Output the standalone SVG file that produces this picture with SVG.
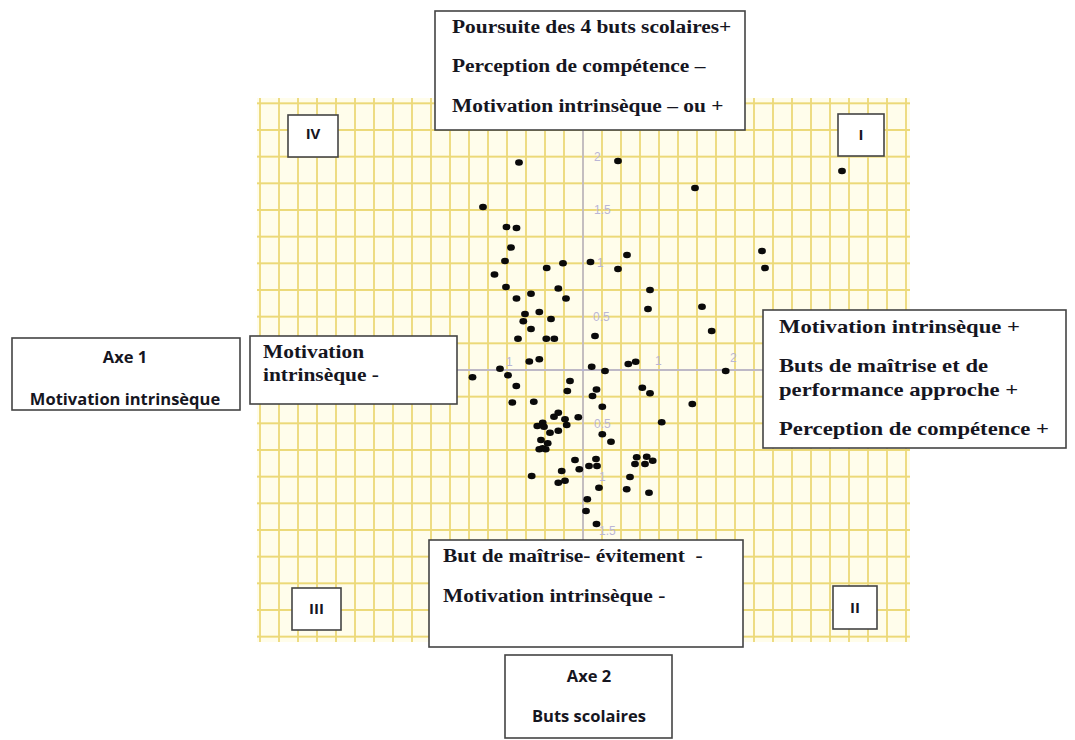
<svg xmlns="http://www.w3.org/2000/svg" width="1075" height="740" viewBox="0 0 1075 740">
<style>
.box{fill:#ffffff;stroke:#444444;stroke-width:1.6}
.ser{font-family:"Liberation Serif","Times New Roman",serif;font-weight:bold;font-size:18px;fill:#16161f}
.sans{font-family:"Open Sans","Liberation Sans",sans-serif;font-weight:bold;fill:#16161f}
.ax{stroke:#aeaee0;stroke-width:1.3;fill:none}
.lab{font-family:"Liberation Sans",Arial,sans-serif;font-size:12px;fill:#bab6d6}
.pt{fill:#0a0a0a}
</style>
<defs>
<pattern id="gridpat" patternUnits="userSpaceOnUse" x="582" y="369" width="19" height="26.667">
<path d="M1 0V26.667M0 1H19" stroke="#ecd978" stroke-width="1.8" fill="none"/>
</pattern>
</defs>
<rect width="1075" height="740" fill="#ffffff"/>
<g id="grid">
<rect x="257" y="98" width="653" height="544" fill="#fffdeb"/>
<rect x="257" y="98" width="653" height="544" fill="url(#gridpat)"/>
<path class="ax" d="M583 98V642M257 370H910"/>
<text class="lab" x="594" y="161">2</text>
<text class="lab" x="594" y="214">1.5</text>
<text class="lab" x="597" y="267">1</text>
<text class="lab" x="593" y="321">0.5</text>
<text class="lab" x="594" y="428">0.5</text>
<text class="lab" x="599" y="481">1</text>
<text class="lab" x="599" y="535">1.5</text>
<text class="lab" x="506" y="366">1</text>
<text class="lab" x="655" y="365">1</text>
<text class="lab" x="730" y="362">2</text>
</g>
<g id="points">
<ellipse class="pt" cx="519" cy="162.5" rx="3.9" ry="3.3"/>
<ellipse class="pt" cx="618" cy="161" rx="3.9" ry="3.3"/>
<ellipse class="pt" cx="695" cy="188" rx="3.9" ry="3.3"/>
<ellipse class="pt" cx="842" cy="171" rx="3.9" ry="3.3"/>
<ellipse class="pt" cx="483" cy="207" rx="3.9" ry="3.3"/>
<ellipse class="pt" cx="506.5" cy="227" rx="3.9" ry="3.3"/>
<ellipse class="pt" cx="516.5" cy="228" rx="3.9" ry="3.3"/>
<ellipse class="pt" cx="511" cy="247.5" rx="3.9" ry="3.3"/>
<ellipse class="pt" cx="627" cy="255" rx="3.9" ry="3.3"/>
<ellipse class="pt" cx="762" cy="251" rx="3.9" ry="3.3"/>
<ellipse class="pt" cx="765" cy="268" rx="3.9" ry="3.3"/>
<ellipse class="pt" cx="505" cy="261" rx="3.9" ry="3.3"/>
<ellipse class="pt" cx="590.5" cy="262" rx="3.9" ry="3.3"/>
<ellipse class="pt" cx="618" cy="269" rx="3.9" ry="3.3"/>
<ellipse class="pt" cx="546.7" cy="268" rx="3.9" ry="3.3"/>
<ellipse class="pt" cx="563" cy="263.3" rx="3.9" ry="3.3"/>
<ellipse class="pt" cx="494.5" cy="274.5" rx="3.9" ry="3.3"/>
<ellipse class="pt" cx="506" cy="287" rx="3.9" ry="3.3"/>
<ellipse class="pt" cx="531" cy="293.7" rx="3.9" ry="3.3"/>
<ellipse class="pt" cx="558.3" cy="288.5" rx="3.9" ry="3.3"/>
<ellipse class="pt" cx="516.5" cy="298.5" rx="3.9" ry="3.3"/>
<ellipse class="pt" cx="566" cy="298.5" rx="3.9" ry="3.3"/>
<ellipse class="pt" cx="650" cy="290" rx="3.9" ry="3.3"/>
<ellipse class="pt" cx="648" cy="309" rx="3.9" ry="3.3"/>
<ellipse class="pt" cx="702" cy="306.7" rx="3.9" ry="3.3"/>
<ellipse class="pt" cx="711.7" cy="331" rx="3.9" ry="3.3"/>
<ellipse class="pt" cx="525" cy="314" rx="3.9" ry="3.3"/>
<ellipse class="pt" cx="539.3" cy="312" rx="3.9" ry="3.3"/>
<ellipse class="pt" cx="523.3" cy="321.3" rx="3.9" ry="3.3"/>
<ellipse class="pt" cx="551" cy="319" rx="3.9" ry="3.3"/>
<ellipse class="pt" cx="531" cy="329" rx="3.9" ry="3.3"/>
<ellipse class="pt" cx="518" cy="338.7" rx="3.9" ry="3.3"/>
<ellipse class="pt" cx="546.3" cy="338.7" rx="3.9" ry="3.3"/>
<ellipse class="pt" cx="554.3" cy="338.7" rx="3.9" ry="3.3"/>
<ellipse class="pt" cx="595" cy="336" rx="3.9" ry="3.3"/>
<ellipse class="pt" cx="529.3" cy="361.5" rx="3.9" ry="3.3"/>
<ellipse class="pt" cx="539.3" cy="359.3" rx="3.9" ry="3.3"/>
<ellipse class="pt" cx="500" cy="368.7" rx="3.9" ry="3.3"/>
<ellipse class="pt" cx="472.5" cy="377.3" rx="3.9" ry="3.3"/>
<ellipse class="pt" cx="508" cy="375.3" rx="3.9" ry="3.3"/>
<ellipse class="pt" cx="591.7" cy="366.7" rx="3.9" ry="3.3"/>
<ellipse class="pt" cx="605" cy="371" rx="3.9" ry="3.3"/>
<ellipse class="pt" cx="628.3" cy="364" rx="3.9" ry="3.3"/>
<ellipse class="pt" cx="635.7" cy="361.7" rx="3.9" ry="3.3"/>
<ellipse class="pt" cx="725.7" cy="371" rx="3.9" ry="3.3"/>
<ellipse class="pt" cx="516.3" cy="386" rx="3.9" ry="3.3"/>
<ellipse class="pt" cx="570" cy="381" rx="3.9" ry="3.3"/>
<ellipse class="pt" cx="567.3" cy="391" rx="3.9" ry="3.3"/>
<ellipse class="pt" cx="596.5" cy="389.5" rx="3.9" ry="3.3"/>
<ellipse class="pt" cx="592.5" cy="396" rx="3.9" ry="3.3"/>
<ellipse class="pt" cx="642.3" cy="387.7" rx="3.9" ry="3.3"/>
<ellipse class="pt" cx="650" cy="393.3" rx="3.9" ry="3.3"/>
<ellipse class="pt" cx="512.3" cy="402.5" rx="3.9" ry="3.3"/>
<ellipse class="pt" cx="533.8" cy="401.7" rx="3.9" ry="3.3"/>
<ellipse class="pt" cx="602.3" cy="406.7" rx="3.9" ry="3.3"/>
<ellipse class="pt" cx="692.3" cy="404" rx="3.9" ry="3.3"/>
<ellipse class="pt" cx="554" cy="416.7" rx="3.9" ry="3.3"/>
<ellipse class="pt" cx="558.3" cy="412.7" rx="3.9" ry="3.3"/>
<ellipse class="pt" cx="565" cy="419.3" rx="3.9" ry="3.3"/>
<ellipse class="pt" cx="578.3" cy="417.3" rx="3.9" ry="3.3"/>
<ellipse class="pt" cx="537.3" cy="426" rx="3.9" ry="3.3"/>
<ellipse class="pt" cx="542.7" cy="422.7" rx="3.9" ry="3.3"/>
<ellipse class="pt" cx="544" cy="426.7" rx="3.9" ry="3.3"/>
<ellipse class="pt" cx="566.7" cy="425" rx="3.9" ry="3.3"/>
<ellipse class="pt" cx="550" cy="432.7" rx="3.9" ry="3.3"/>
<ellipse class="pt" cx="558.3" cy="430.7" rx="3.9" ry="3.3"/>
<ellipse class="pt" cx="602.3" cy="434.3" rx="3.9" ry="3.3"/>
<ellipse class="pt" cx="611" cy="441.7" rx="3.9" ry="3.3"/>
<ellipse class="pt" cx="661.7" cy="422.3" rx="3.9" ry="3.3"/>
<ellipse class="pt" cx="541" cy="440" rx="3.9" ry="3.3"/>
<ellipse class="pt" cx="547.7" cy="443.3" rx="3.9" ry="3.3"/>
<ellipse class="pt" cx="542.7" cy="448.3" rx="3.9" ry="3.3"/>
<ellipse class="pt" cx="539.3" cy="449.3" rx="3.9" ry="3.3"/>
<ellipse class="pt" cx="545.7" cy="449.3" rx="3.9" ry="3.3"/>
<ellipse class="pt" cx="575" cy="460" rx="3.9" ry="3.3"/>
<ellipse class="pt" cx="579.3" cy="469.3" rx="3.9" ry="3.3"/>
<ellipse class="pt" cx="589" cy="466" rx="3.9" ry="3.3"/>
<ellipse class="pt" cx="597" cy="466" rx="3.9" ry="3.3"/>
<ellipse class="pt" cx="596" cy="459" rx="3.9" ry="3.3"/>
<ellipse class="pt" cx="636.7" cy="457.3" rx="3.9" ry="3.3"/>
<ellipse class="pt" cx="635" cy="464" rx="3.9" ry="3.3"/>
<ellipse class="pt" cx="646.7" cy="456.7" rx="3.9" ry="3.3"/>
<ellipse class="pt" cx="652.7" cy="460.7" rx="3.9" ry="3.3"/>
<ellipse class="pt" cx="645" cy="464" rx="3.9" ry="3.3"/>
<ellipse class="pt" cx="630" cy="477" rx="3.9" ry="3.3"/>
<ellipse class="pt" cx="531.7" cy="476" rx="3.9" ry="3.3"/>
<ellipse class="pt" cx="561.7" cy="471" rx="3.9" ry="3.3"/>
<ellipse class="pt" cx="558.3" cy="482.7" rx="3.9" ry="3.3"/>
<ellipse class="pt" cx="565" cy="480.7" rx="3.9" ry="3.3"/>
<ellipse class="pt" cx="599" cy="487.7" rx="3.9" ry="3.3"/>
<ellipse class="pt" cx="626.7" cy="489.3" rx="3.9" ry="3.3"/>
<ellipse class="pt" cx="649" cy="492.7" rx="3.9" ry="3.3"/>
<ellipse class="pt" cx="587.3" cy="499.3" rx="3.9" ry="3.3"/>
<ellipse class="pt" cx="586" cy="511" rx="3.9" ry="3.3"/>
<ellipse class="pt" cx="596.5" cy="524" rx="3.9" ry="3.3"/>
</g>
<g id="connectors"></g>
<g id="box-top">
<rect class="box" x="435" y="11" width="310" height="119"/>
<text class="ser" transform="matrix(1.19 0 0 1 452 0)"><tspan x="0" y="33">Poursuite des 4 buts scolaires+</tspan><tspan x="0" y="72.5">Perception de compétence –</tspan><tspan x="0" y="112">Motivation intrinsèque – ou +</tspan></text>
</g>
<g id="quad-IV">
<rect class="box" x="288" y="115" width="50" height="42"/>
<text class="sans" x="313" y="139" font-size="15" text-anchor="middle">IV</text>
</g>
<g id="quad-I">
<rect class="box" x="838" y="114" width="46" height="42"/>
<text class="sans" x="861" y="140" font-size="15" text-anchor="middle">I</text>
</g>
<g id="quad-III">
<rect class="box" x="292" y="588" width="49" height="42"/>
<text class="sans" x="316.5" y="614" font-size="15" text-anchor="middle">III</text>
</g>
<g id="quad-II">
<rect class="box" x="833" y="586" width="44" height="43"/>
<text class="sans" x="855" y="612.5" font-size="15" text-anchor="middle">II</text>
</g>
<g id="box-left">
<rect class="box" x="250" y="336" width="207" height="68"/>
<text class="ser" transform="matrix(1.19 0 0 1 263 0)"><tspan x="0" y="358">Motivation</tspan><tspan x="0" y="381">intrinsèque -</tspan></text>
</g>
<g id="box-right">
<rect class="box" x="763" y="310" width="303" height="138"/>
<text class="ser" transform="matrix(1.26 0 0 1 779 0)"><tspan x="0" y="333">Motivation intrinsèque +</tspan><tspan x="0" y="372">Buts de maîtrise et de</tspan><tspan x="0" y="396">performance approche +</tspan><tspan x="0" y="435">Perception de compétence +</tspan></text>
</g>
<g id="box-bottom">
<rect class="box" x="429" y="540" width="314" height="107"/>
<text class="ser" transform="matrix(1.19 0 0 1 443 0)" xml:space="preserve"><tspan x="0" y="562">But de maîtrise- évitement  -</tspan><tspan x="0" y="602">Motivation intrinsèque -</tspan></text>
</g>
<g id="axe1">
<rect class="box" x="12" y="338" width="228" height="72"/>
<text class="sans" x="125" y="363" font-size="16.5" text-anchor="middle">Axe 1</text>
<text class="sans" x="125" y="405" font-size="16.5" text-anchor="middle">Motivation intrinsèque</text>
</g>
<g id="axe2">
<rect class="box" x="505" y="655" width="167" height="83"/>
<text class="sans" x="589" y="681.5" font-size="16.5" text-anchor="middle">Axe 2</text>
<text class="sans" x="589" y="721.5" font-size="16.5" text-anchor="middle">Buts scolaires</text>
</g>
</svg>
